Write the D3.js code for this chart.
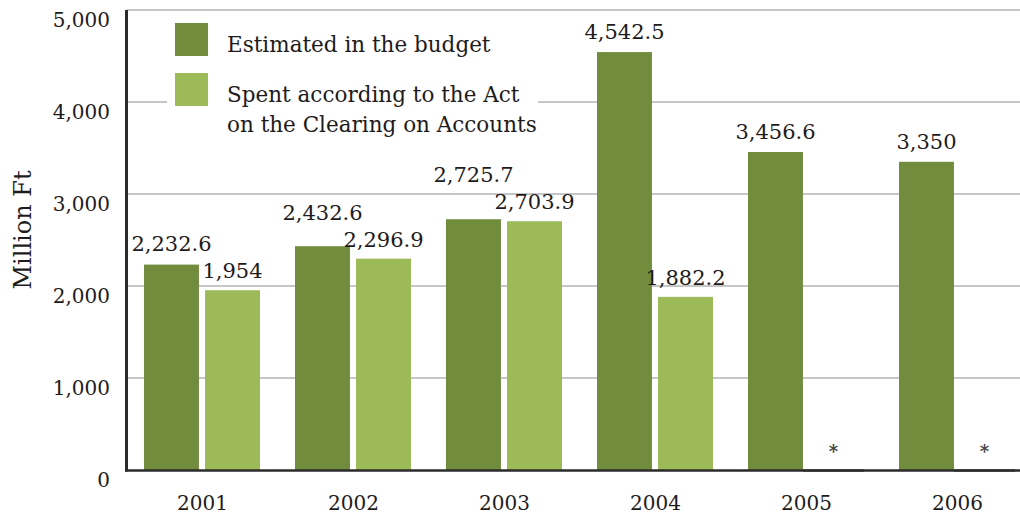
<!DOCTYPE html>
<html><head><meta charset="utf-8">
<script src="https://cdn.jsdelivr.net/npm/d3@7"></script>
<style>html,body{margin:0;padding:0;background:#fff}svg{display:block}</style>
</head><body>
<svg id="chart" width="1020" height="516"></svg>
<script>
const years = ["2001","2002","2003","2004","2005","2006"];
const estimated = [2232.6, 2432.6, 2725.7, 4542.5, 3456.6, 3350];
const spent = [1954, 2296.9, 2703.9, 1882.2, null, null];
const seriesNames = ["Estimated in the budget", "Spent according to the Act|on the Clearing on Accounts"];
const yTicks = [0, 1000, 2000, 3000, 4000, 5000];

const colors = ["#728c3e", "#9cba58"];
const font = "DejaVu Serif";
const ink = "#1e1b1c";
const svg = d3.select("#chart");
svg.append("rect").attr("width",1020).attr("height",516).attr("fill","#fff");

const y = d3.scaleLinear().domain([0,5000]).range([470,10]);
const x0 = d3.scaleBand().domain(years).range([127,1033]).padding(0);
const x1 = d3.scaleBand().domain([0,1]).range([17,133]).paddingInner(0.1);

// gridlines
svg.append("g").selectAll("line").data(yTicks.filter(d=>d>0)).join("line")
  .attr("x1",127).attr("x2",1020).attr("y1",d=>y(d)).attr("y2",d=>y(d))
  .attr("stroke","#b3b3b3").attr("stroke-width",1.5);

// tick labels
svg.append("g").selectAll("text").data(yTicks).join("text")
  .attr("x",110).attr("y",d=>y(d)+17).attr("text-anchor","end")
  .attr("font-family",font).attr("font-size",20).attr("fill",ink)
  .text(d=>d3.format(",")(d));

// axis title
svg.append("text").attr("transform","translate(31,230) rotate(-90)")
  .attr("text-anchor","middle").attr("font-family",font).attr("font-size",24).attr("fill",ink)
  .text("Million Ft");

// legend background
svg.append("rect").attr("x",167).attr("y",16).attr("width",371).attr("height",124).attr("fill","#fff");

const fmt = d3.format(",");
const groups = svg.append("g").selectAll("g").data(years).join("g")
  .attr("transform",d=>`translate(${x0(d)},0)`);

groups.each(function(yr,i){
  const g = d3.select(this);
  const vals = [estimated[i], spent[i]];
  vals.forEach((v,k)=>{
    if (v == null) return;
    g.append("rect").attr("x",x1(k)).attr("width",x1.bandwidth())
      .attr("y",y(v)).attr("height",y(0)-y(v)).attr("fill",colors[k]);
  });
  const lightY = spent[i]!=null ? y(spent[i]) - 12 : null;
  let darkY = y(estimated[i]) - 13;
  if (lightY != null) darkY = Math.min(darkY, lightY - 27);
  g.append("text").attr("x",x1(0)+x1.bandwidth()/2).attr("y",darkY).attr("text-anchor","middle")
    .attr("font-family",font).attr("font-size",21).attr("fill",ink).text(fmt(estimated[i]));
  if (spent[i]!=null) {
    g.append("text").attr("x",x1(1)+x1.bandwidth()/2).attr("y",lightY).attr("text-anchor","middle")
      .attr("font-family",font).attr("font-size",21).attr("fill",ink).text(fmt(spent[i]));
  } else {
    g.append("text").attr("x",x1(1)+x1.bandwidth()/2-3).attr("y",y(0)-12).attr("text-anchor","middle")
      .attr("font-family",font).attr("font-size",18).attr("font-weight","bold").attr("fill","#444").text("*");
  }
  g.append("text").attr("x",x0.bandwidth()/2).attr("y",510).attr("text-anchor","middle")
    .attr("font-family",font).attr("font-size",20).attr("fill",ink).text(yr);
});

// axes lines
svg.append("line").attr("x1",126.5).attr("x2",126.5).attr("y1",10).attr("y2",471.5)
  .attr("stroke","#2b2b2b").attr("stroke-width",3);
svg.append("line").attr("x1",125).attr("x2",1020).attr("y1",470.5).attr("y2",470.5)
  .attr("stroke","#2b2b2b").attr("stroke-width",2.5);
// zero-height bars drawn over the baseline
groups.each(function(yr,i){
  if (spent[i]!=null) return;
  d3.select(this).append("line").attr("x1",x1(1)-6).attr("x2",x1(1)+x1.bandwidth())
    .attr("y1",y(0)+0.5).attr("y2",y(0)+0.5).attr("stroke","#55584a").attr("stroke-width",2.5);
});

// legend
const leg = svg.append("g");
[0,1].forEach(k=>{
  leg.append("rect").attr("x",175).attr("y",23+50*k).attr("width",33).attr("height",33).attr("fill",colors[k]);
  const lines = seriesNames[k].split("|");
  lines.forEach((t,j)=>{
    leg.append("text").attr("x",227).attr("y",52+50*k+30*j)
      .attr("font-family",font).attr("font-size",21.5).attr("fill",ink).text(t);
  });
});
</script>
</body></html>
